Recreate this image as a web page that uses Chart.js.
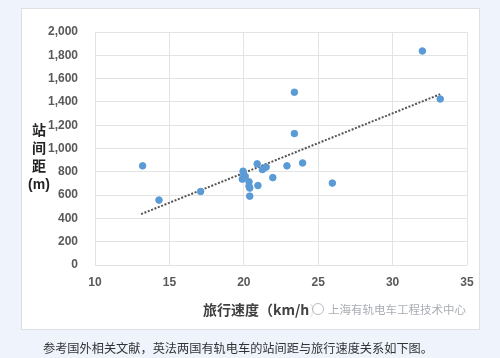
<!DOCTYPE html>
<html>
<head>
<meta charset="utf-8">
<script src="https://cdn.jsdelivr.net/npm/chart.js@4"></script>
<style>
  html, body { margin: 0; padding: 0; }
  body { width: 500px; height: 358px; background: #eef3fc; position: relative; overflow: hidden;
         font-family: "Noto Sans CJK SC", "Liberation Sans", sans-serif; }
  .box { position: absolute; left: 21px; top: 8px; width: 457px; height: 320px; background: #fff; border: 1px solid #dcdfe4; }
  canvas { position: absolute; left: 0; top: 0; }
  .ytitle { position: absolute; left: 27px; top: 120px; width: 24px; text-align: center; font-weight: bold;
            font-size: 14px; line-height: 18px; color: #222; }
  .xtitle { position: absolute; left: 203px; top: 299px; font-weight: bold; font-size: 14px; color: #404040; }
  .mark { position: absolute; left: 309px; top: 301px; padding-left: 3px; font-size: 11.5px; color: #a9adb3;
          white-space: nowrap; background: rgba(255,255,255,0.9); }
  .mark span { display: inline-block; width: 10px; height: 10px; border: 1px solid #b8bcc2; border-radius: 50%; margin-right: 4px; vertical-align: -1px; }
  .caption { position: absolute; left: 43px; top: 339px; font-size: 12.2px; color: #333; white-space: nowrap; }
</style>
</head>
<body>
<div class="box"></div>
<canvas id="chart" width="500" height="358"></canvas>
<div class="ytitle">站<br>间<br>距<br><span style="font-family:'Liberation Sans',sans-serif">(m)</span></div>
<div class="xtitle">旅行速度（km/h）</div>
<div class="mark"><span></span>上海有轨电车工程技术中心</div>
<div class="caption">参考国外相关文献，英法两国有轨电车的站间距与旅行速度关系如下图。</div>
<script>
// travel speed (km/h) vs stop spacing (m)
const speed = [13.2, 14.3, 17.1, 19.95, 20.0, 20.1, 19.9, 20.35, 20.35, 20.4, 20.4, 20.9, 20.95, 21.25, 21.5, 21.95, 22.9, 23.4, 23.4, 23.95, 25.95, 32.0, 33.2];
const spacing = [851, 557, 631, 805, 775, 760, 737, 714, 677, 660, 591, 868, 682, 819, 840, 750, 851, 1483, 1128, 876, 703, 1837, 1425];
const trendX = [13.1, 33.2];
const trendY = [437, 1466];

const pts = speed.map((x, i) => ({ x: x, y: spacing[i] }));
const trend = trendX.map((x, i) => ({ x: x, y: trendY[i] }));

const tickFont = { family: 'Liberation Sans', size: 12, weight: 'bold' };

new Chart(document.getElementById('chart'), {
    type: 'scatter',
    data: {
        datasets: [{
            data: pts,
            backgroundColor: '#5b9bd5',
            borderColor: '#5b9bd5',
            pointRadius: 3.3,
            pointHoverRadius: 3.3
        }, {
            type: 'line',
            data: trend,
            borderColor: '#555',
            borderWidth: 2,
            borderDash: [2, 1.6],
            pointRadius: 0,
            fill: false
        }]
    },
    options: {
        responsive: false, animation: false,
        layout: { padding: { left: 0, top: 32, right: 33, bottom: 0 } },
        plugins: { legend: { display: false }, tooltip: { enabled: false } },
        scales: {
            x: {
                type: 'linear', min: 10, max: 35,
                ticks: { stepSize: 5, color: '#595959', font: tickFont, padding: 10 },
                grid: { color: '#e3e3e3', drawTicks: false },
                border: { display: false },
                afterFit: s => { s.height = 93; }
            },
            y: {
                min: 0, max: 2000,
                ticks: { stepSize: 200, color: '#595959', font: tickFont, padding: 17,
                         callback: v => v.toLocaleString('en-US') },
                grid: { color: '#e3e3e3', drawTicks: false },
                border: { display: false },
                afterFit: s => { s.width = 95; }
            }
        }
    }
});
</script>
</body>
</html>
